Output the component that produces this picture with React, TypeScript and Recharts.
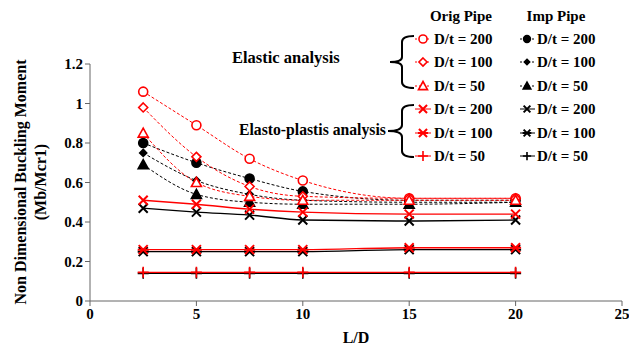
import { LineChart, Line, XAxis, YAxis } from 'recharts';

const lOverD = [2.5, 5, 7.5, 10, 15, 20];

// elastic analysis
const origE200 = [1.06, 0.89, 0.72, 0.61, 0.52, 0.52];
const origE100 = [0.98, 0.73, 0.58, 0.53, 0.52, 0.52];
const origE50 = [0.85, 0.6, 0.53, 0.51, 0.51, 0.51];
const impE200 = [0.8, 0.7, 0.62, 0.555, 0.51, 0.51];
const impE100 = [0.75, 0.61, 0.54, 0.51, 0.5, 0.5];
const impE50 = [0.69, 0.54, 0.5, 0.49, 0.49, 0.5];

// elasto-plastic analysis
const origP200 = [0.51, 0.49, 0.465, 0.45, 0.44, 0.44];
const origP100 = [0.26, 0.26, 0.26, 0.26, 0.27, 0.27];
const origP50 = [0.145, 0.145, 0.145, 0.145, 0.145, 0.145];
const impP200 = [0.47, 0.45, 0.435, 0.41, 0.405, 0.41];
const impP100 = [0.25, 0.25, 0.25, 0.25, 0.26, 0.26];
const impP50 = [0.14, 0.14, 0.14, 0.14, 0.14, 0.14];

const xTicks = [0, 5, 10, 15, 20, 25];
const yTicks = [0, 0.2, 0.4, 0.6, 0.8, 1, 1.2];

const RED = '#FF0000';
const BLACK = '#000000';
const FONT = '"Liberation Serif", "Times New Roman", serif';

type Shape = 'circle' | 'diamond' | 'triangle' | 'x' | 'star' | 'plus';

function marker(shape: Shape, color: string, filled: boolean, cx: number, cy: number, key?: string | number, k = 1) {
  const fill = filled ? color : '#fff';
  const sw = 1.6;
  switch (shape) {
    case 'circle':
      return <circle key={key} cx={cx} cy={cy} r={4.5 * k} fill={fill} stroke={color} strokeWidth={sw} />;
    case 'diamond': {
      const s = (filled ? 3.5 : 4.5) * k;
      return (
        <polygon key={key} points={`${cx},${cy - s} ${cx + s},${cy} ${cx},${cy + s} ${cx - s},${cy}`} fill={fill} stroke={color} strokeWidth={sw} />
      );
    }
    case 'triangle': {
      const s = 5 * k;
      return (
        <polygon key={key} points={`${cx},${cy - s} ${cx + s},${cy + s * 0.8} ${cx - s},${cy + s * 0.8}`} fill={fill} stroke={color} strokeWidth={sw} />
      );
    }
    case 'x': {
      const s = 4.5 * k;
      return (
        <path key={key} d={`M${cx - s},${cy - s}L${cx + s},${cy + s}M${cx - s},${cy + s}L${cx + s},${cy - s}`} stroke={color} strokeWidth={2} fill="none" />
      );
    }
    case 'star': {
      const s = 4.5 * k;
      return (
        <path key={key} d={`M${cx - s},${cy - s}L${cx + s},${cy + s}M${cx - s},${cy + s}L${cx + s},${cy - s}M${cx - s - 1},${cy}L${cx + s + 1},${cy}`} stroke={color} strokeWidth={2} fill="none" />
      );
    }
    case 'plus': {
      const s = 5.5 * k;
      return (
        <path key={key} d={`M${cx - s},${cy}L${cx + s},${cy}M${cx},${cy - s}L${cx},${cy + s}`} stroke={color} strokeWidth={1.6} fill="none" />
      );
    }
  }
}

const dotFor = (shape: Shape, color: string, filled: boolean) => (p: any) =>
  marker(shape, color, filled, p.cx, p.cy, `${p.dataKey}-${p.index}`) as any;

type Series = { key: string; values: number[]; color: string; shape: Shape; filled: boolean; dashed: boolean; label: string };

const series: Series[] = [
  { key: 'origE200', values: origE200, color: RED, shape: 'circle', filled: false, dashed: true, label: 'D/t = 200' },
  { key: 'origE100', values: origE100, color: RED, shape: 'diamond', filled: false, dashed: true, label: 'D/t = 100' },
  { key: 'origE50', values: origE50, color: RED, shape: 'triangle', filled: false, dashed: true, label: 'D/t = 50' },
  { key: 'origP200', values: origP200, color: RED, shape: 'x', filled: false, dashed: false, label: 'D/t = 200' },
  { key: 'origP100', values: origP100, color: RED, shape: 'star', filled: false, dashed: false, label: 'D/t = 100' },
  { key: 'origP50', values: origP50, color: RED, shape: 'plus', filled: false, dashed: false, label: 'D/t = 50' },
  { key: 'impE200', values: impE200, color: BLACK, shape: 'circle', filled: true, dashed: true, label: 'D/t = 200' },
  { key: 'impE100', values: impE100, color: BLACK, shape: 'diamond', filled: true, dashed: true, label: 'D/t = 100' },
  { key: 'impE50', values: impE50, color: BLACK, shape: 'triangle', filled: true, dashed: true, label: 'D/t = 50' },
  { key: 'impP200', values: impP200, color: BLACK, shape: 'x', filled: false, dashed: false, label: 'D/t = 200' },
  { key: 'impP100', values: impP100, color: BLACK, shape: 'star', filled: false, dashed: false, label: 'D/t = 100' },
  { key: 'impP50', values: impP50, color: BLACK, shape: 'plus', filled: false, dashed: false, label: 'D/t = 50' },
];

const data = lOverD.map((x, i) => {
  const row: Record<string, number> = { x };
  series.forEach((s) => (row[s.key] = s.values[i]));
  return row;
});

// black behind red
const drawOrder = [...series.filter((s) => s.color === BLACK), ...series.filter((s) => s.color === RED)];

const rowY = [39, 62, 86, 109, 133, 156];

function Overlay() {
  const orig = series.filter((s) => s.color === RED);
  const imp = series.filter((s) => s.color === BLACK);
  const txt = { fontFamily: FONT, fontWeight: 'bold' as const, fontSize: 15, fill: '#000' };
  return (
    <svg width={629} height={353} style={{ position: 'absolute', left: 0, top: 0, pointerEvents: 'none' }}>
      <text x={461} y={21} textAnchor="middle" {...txt}>Orig Pipe</text>
      <text x={556} y={21} textAnchor="middle" {...txt}>Imp Pipe</text>
      {orig.map((s, i) => (
        <g key={s.key}>
          <line x1={415} x2={431} y1={rowY[i]} y2={rowY[i]} stroke={s.color} strokeWidth={1} strokeDasharray={s.dashed ? '2 2' : undefined} />
          {marker(s.shape, s.color, s.filled, 423, rowY[i], undefined, 0.9)}
          <text x={434} y={rowY[i] + 5} {...txt}>{s.label}</text>
        </g>
      ))}
      {imp.map((s, i) => (
        <g key={s.key}>
          <line x1={520} x2={535} y1={rowY[i]} y2={rowY[i]} stroke={s.color} strokeWidth={1} strokeDasharray={s.dashed ? '2 2' : undefined} />
          {marker(s.shape, s.color, s.filled, 527, rowY[i], undefined, 0.75)}
          <text x={537} y={rowY[i] + 5} {...txt}>{s.label}</text>
        </g>
      ))}
      <text x={232} y={63} {...txt} fontSize={16.5}>Elastic analysis</text>
      <text x={239} y={135} {...txt} fontSize={15.7}>Elasto-plastis analysis</text>
      <path d="M414,36 Q402,36 402,42 L402,57 Q402,62 390,62 Q402,62 402,67 L402,82 Q402,88 414,88" stroke="#000" strokeWidth={2} fill="none" />
      <path d="M414,105 Q402,105 402,111 L402,125 Q402,131 388,131 Q402,131 402,137 L402,151 Q402,157 414,157" stroke="#000" strokeWidth={2} fill="none" />
      <g transform="translate(26,182) rotate(-90)">
        <text x={0} y={0} textAnchor="middle" {...txt} fontSize={16}>Non Dimensional Buckling Moment</text>
        <text x={0} y={20} textAnchor="middle" {...txt} fontSize={16}>(Mb/Mcr1)</text>
      </g>
      <text x={356} y={343} textAnchor="middle" {...txt} fontSize={16}>L/D</text>
    </svg>
  );
}

export default function App() {
  const tick = { fontFamily: FONT, fontWeight: 'bold', fontSize: 15, fill: '#000' };
  return (
    <div style={{ position: 'absolute', left: 0, top: 0, width: 629, height: 353, background: '#fff' }}>
      <LineChart width={629} height={353} data={data} margin={{ top: 64, right: 7, bottom: 0, left: 40 }}>
        <XAxis
          dataKey="x"
          type="number"
          domain={[0, 25]}
          ticks={xTicks}
          stroke="#666"
          tick={tick}
          tickSize={5}
          height={52}
          interval={0}
        />
        <YAxis
          type="number"
          domain={[0, 1.2]}
          ticks={yTicks}
          stroke="#666"
          tick={tick}
          tickSize={5}
          width={50}
          interval={0}
        />
        {drawOrder.map((s) => (
          <Line
            key={s.key}
            dataKey={s.key}
            type="monotone"
            stroke={s.color}
            strokeWidth={s.dashed ? 1 : 1.4}
            strokeDasharray={s.dashed ? '3 2' : undefined}
            dot={dotFor(s.shape, s.color, s.filled)}
            activeDot={false}
            isAnimationActive={false}
          />
        ))}
      </LineChart>
      <Overlay />
    </div>
  );
}
